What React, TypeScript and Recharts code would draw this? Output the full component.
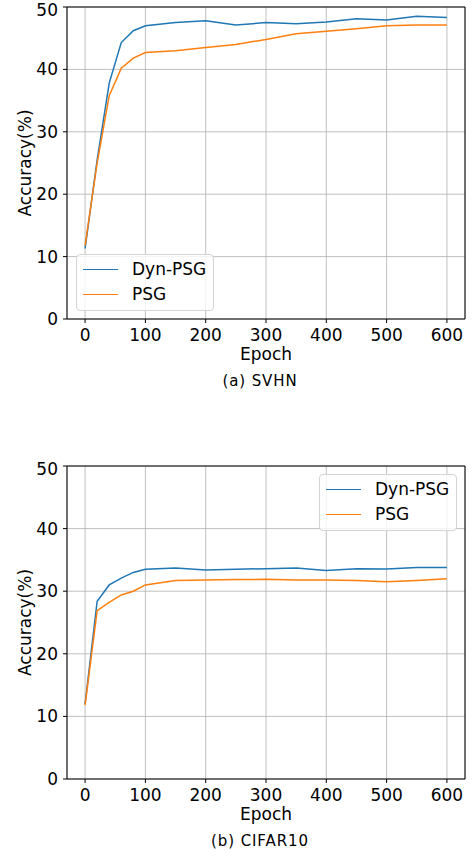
import React from 'react';
import { LineChart, Line, XAxis, YAxis, CartesianGrid, Legend, ReferenceLine, Label } from 'recharts';

const epochs = [0, 20, 40, 60, 80, 100, 150, 200, 250, 300, 350, 400, 450, 500, 550, 600];
const svhnDyn = [11.3, 25.5, 37.8, 44.3, 46.2, 47.0, 47.5, 47.8, 47.1, 47.5, 47.3, 47.6, 48.1, 47.9, 48.5, 48.3];
const svhnPsg = [11.8, 25.0, 35.8, 40.2, 41.8, 42.7, 43.0, 43.5, 44.0, 44.8, 45.7, 46.1, 46.5, 47.0, 47.1, 47.1];
const cifarDyn = [12.0, 28.4, 31.0, 32.1, 33.0, 33.5, 33.7, 33.4, 33.5, 33.6, 33.7, 33.3, 33.6, 33.55, 33.8, 33.8];
const cifarPsg = [11.8, 26.9, 28.2, 29.4, 30.0, 31.0, 31.7, 31.8, 31.85, 31.9, 31.8, 31.8, 31.7, 31.5, 31.7, 32.0];
const xTicks = [0, 100, 200, 300, 400, 500, 600];
const yTicks = [0, 10, 20, 30, 40, 50];
const seriesNames = ['Dyn-PSG', 'PSG'];

const FONT = '"DejaVu Sans", sans-serif';
const BLUE = '#1f77b4';
const ORANGE = '#ff7f0e';

const build = (a: number[], b: number[]) =>
  epochs.map((e, i) => ({ epoch: e, dyn: a[i], psg: b[i] }));

const renderLegend = (props: any) => {
  const payload = props.payload || [];
  return (
    <div
      style={{
        width: 138,
        height: 57,
        boxSizing: 'border-box',
        border: '1px solid #d4d4d4',
        borderRadius: 4,
        background: 'rgba(255,255,255,0.8)',
        position: 'relative',
        fontFamily: FONT,
        fontSize: 17,
        color: '#000',
      }}
    >
      {payload.map((p: any, i: number) => (
        <div
          key={i}
          style={{
            position: 'absolute',
            left: 6,
            top: 14 + 25 * i - 10,
            height: 20,
            display: 'flex',
            alignItems: 'center',
            whiteSpace: 'nowrap',
          }}
        >
          <div style={{ width: 35, height: 0, borderTop: `1.5px solid ${p.color}` }} />
          <span style={{ marginLeft: 14, lineHeight: '20px' }}>{p.value}</span>
        </div>
      ))}
    </div>
  );
};

type PanelProps = {
  data: any[];
  height: number;
  legendLeft: number;
  legendTop: number;
  epochY: number;
};

const Panel = ({ data, height, legendLeft, legendTop, epochY }: PanelProps) => {
  const plotTop = 7;
  const plotBottom = height - 81;
  const yMid = (plotTop + plotBottom) / 2;
  return (
    <LineChart
      width={474}
      height={height}
      data={data}
      margin={{ top: 7, right: 9, left: 0, bottom: 41 }}
      style={{ fontFamily: FONT }}
    >
      <CartesianGrid stroke="#b0b0b0" strokeWidth={0.8} />
      <XAxis
        dataKey="epoch"
        type="number"
        domain={[-30, 630]}
        ticks={xTicks}
        allowDataOverflow
        height={40}
        tickSize={4}
        tickMargin={6}
        stroke="#000"
        tick={{ fill: '#000', fontSize: 17, fontFamily: FONT }}
        axisLine={{ stroke: '#000', strokeWidth: 1 }}
        tickLine={{ stroke: '#000' }}
      >
        <Label
          content={() => (
            <text x={266} y={epochY} textAnchor="middle" fontSize={17} fontFamily={FONT} fill="#000">
              Epoch
            </text>
          )}
        />
      </XAxis>
      <YAxis
        type="number"
        domain={[0, 50]}
        ticks={yTicks}
        allowDataOverflow
        width={67}
        tickSize={4}
        tickMargin={5}
        stroke="#000"
        tick={{ fill: '#000', fontSize: 17, fontFamily: FONT }}
        axisLine={{ stroke: '#000', strokeWidth: 1 }}
        tickLine={{ stroke: '#000' }}
      >
        <Label
          content={() => (
            <text
              x={31}
              y={yMid}
              transform={`rotate(-90 31 ${yMid})`}
              textAnchor="middle"
              fontSize={17}
              fontFamily={FONT}
              fill="#000"
            >
              Accuracy(%)
            </text>
          )}
        />
      </YAxis>
      <ReferenceLine y={50} stroke="#000" strokeWidth={1} />
      <ReferenceLine x={630} stroke="#000" strokeWidth={1} />
      <Line
        type="linear"
        dataKey="dyn"
        name={seriesNames[0]}
        stroke={BLUE}
        strokeWidth={1.5}
        dot={false}
        isAnimationActive={false}
      />
      <Line
        type="linear"
        dataKey="psg"
        name={seriesNames[1]}
        stroke={ORANGE}
        strokeWidth={1.5}
        dot={false}
        isAnimationActive={false}
      />
      <Legend
        layout="horizontal"
        verticalAlign="middle"
        align="center"
        content={renderLegend}
        wrapperStyle={{ left: legendLeft, top: legendTop, width: 138, height: 57 }}
      />
    </LineChart>
  );
};

const captionStyle: React.CSSProperties = {
  position: 'absolute',
  width: 200,
  left: 160,
  textAlign: 'center',
  fontFamily: FONT,
  fontSize: 15,
  letterSpacing: 0.9,
  color: '#000',
  lineHeight: '18px',
};

export default function App() {
  return (
    <div
      style={{
        position: 'absolute',
        left: 0,
        top: 0,
        width: 474,
        height: 856,
        overflow: 'hidden',
        background: '#fff',
      }}
    >
      <div style={{ position: 'absolute', left: 0, top: 0 }}>
        <Panel data={build(svhnDyn, svhnPsg)} height={400} legendLeft={76} legendTop={254} epochY={360} />
      </div>
      <div style={{ ...captionStyle, top: 372 }}>(a) SVHN</div>
      <div style={{ position: 'absolute', left: 0, top: 459 }}>
        <Panel data={build(cifarDyn, cifarPsg)} height={401} legendLeft={319} legendTop={15} epochY={361} />
      </div>
      <div style={{ ...captionStyle, top: 832 }}>(b) CIFAR10</div>
    </div>
  );
}
